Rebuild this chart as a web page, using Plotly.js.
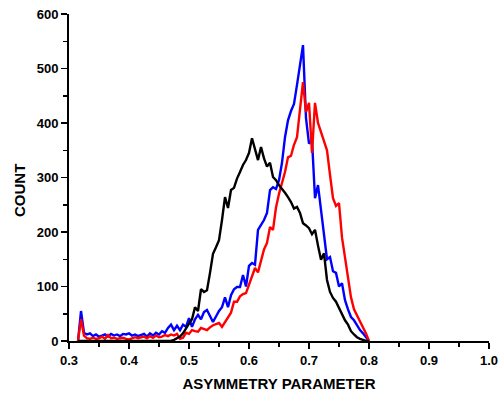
<!DOCTYPE html>
<html>
<head>
<meta charset="utf-8">
<script src="https://cdn.plot.ly/plotly-3.0.1.min.js"></script>
<style>
html,body{margin:0;padding:0;background:#fff;}
#chart{width:501px;height:397px;}
</style>
</head>
<body>
<div id="chart"></div>
<script>
// x grid: starts at 0.315, step 0.005
const xStart = 0.315;
const xStep = 0.005;

const blueCounts = [
  0, 55, 15, 12, 14, 9, 12, 8, 10, 12,
  8, 13, 10, 12, 9, 13, 12, 14, 10, 12,
  9, 11, 13, 8, 14, 10, 15, 12, 18, 15,
  24, 30, 20, 28, 20, 30, 26, 42, 26, 40,
  48, 40, 53, 57, 45, 35, 45, 55, 62, 80,
  62, 84, 95, 99, 99, 121, 100, 138, 143, 140,
  204, 214, 222, 235, 277, 282, 279, 295, 327, 374,
  405, 422, 435, 470, 510, 543, 409, 362, 369, 262,
  286, 240, 190, 150, 154, 128, 125, 100, 106, 75,
  58, 44, 38, 28, 20, 14, 6, 0
];

const redCounts = [
  0, 40, 10, 5, 4, 6, 4, 5, 8, 4,
  11, 5, 6, 4, 5, 6, 4, 3, 5, 7,
  5, 6, 8, 5, 9, 6, 10, 7, 8, 11,
  9, 12, 10, 13, 4, 6, 15, 13, 20, 18,
  17, 24, 22, 20, 25, 29, 31, 33, 26, 35,
  42, 52, 72, 72, 82, 86, 88, 104, 122, 134,
  126, 145, 168, 180, 209, 204, 245, 270, 288, 310,
  337, 340, 360, 374, 425, 475, 420, 437, 345, 437,
  400, 382, 368, 350, 305, 262, 248, 253, 190, 150,
  115, 80, 58, 47, 38, 28, 14, 0
];

const blackCounts = [
  0, 0, 0, 0, 0, 0, 0, 0, 0, 0,
  0, 0, 0, 0, 0, 0, 0, 0, 0, 0,
  0, 0, 0, 0, 0, 0, 0, 0, 0, 0,
  0, 0, 2, 5, 8, 14, 24, 32, 40, 62,
  55, 95, 90, 93, 125, 160, 172, 185, 222, 264,
  244, 277, 281, 298, 310, 323, 332, 345, 372, 350,
  332, 356, 335, 320, 327, 301, 295, 286, 280, 272,
  264, 255, 243, 246, 235, 216, 212, 207, 196, 204,
  175, 149, 161, 112, 90, 79, 72, 60, 50, 38,
  30, 18, 12, 7, 4, 2, 0, 0
];

const xTickVals = [0.3, 0.4, 0.5, 0.6, 0.7, 0.8, 0.9, 1.0];
const xTickText = ["0.3", "0.4", "0.5", "0.6", "0.7", "0.8", "0.9", "1.0"];
const yTickVals = [0, 100, 200, 300, 400, 500, 600];

const fontFam = 'Arial, "Liberation Sans", Helvetica, sans-serif';

function series(vals, color) {
  return {
    type: 'scatter', mode: 'lines',
    x0: xStart, dx: xStep, y: vals,
    line: {color: color, width: 2.4},
    hoverinfo: 'skip', showlegend: false
  };
}

const data = [
  series(blueCounts, '#0000ff'),
  series(redCounts, '#ff0000'),
  series(blackCounts, '#000000')
];

const layout = {
  width: 501, height: 397,
  margin: {l: 69, r: 12, t: 14, b: 56},
  paper_bgcolor: '#fff', plot_bgcolor: '#fff',
  showlegend: false,
  xaxis: {
    range: [0.3, 1.0],
    tickvals: xTickVals, ticktext: xTickText,
    ticks: 'outside', ticklen: 6, tickwidth: 1.5, tickcolor: '#000',
    minor: {dtick: 0.05, tick0: 0.3, ticks: 'outside', ticklen: 4, tickwidth: 1.5, tickcolor: '#000'},
    showline: true, linecolor: '#000', linewidth: 2,
    showgrid: false, zeroline: false,
    tickfont: {family: fontFam, size: 13, color: '#000', weight: 'bold'},
    title: {text: 'ASYMMETRY PARAMETER', font: {family: fontFam, size: 15, color: '#000', weight: 'bold'}, standoff: 12}
  },
  yaxis: {
    range: [0, 600],
    tickvals: yTickVals,
    ticks: 'outside', ticklen: 6, tickwidth: 1.5, tickcolor: '#000',
    minor: {dtick: 50, tick0: 0, ticks: 'outside', ticklen: 4, tickwidth: 1.5, tickcolor: '#000'},
    showline: true, linecolor: '#000', linewidth: 2,
    showgrid: false, zeroline: false,
    tickfont: {family: fontFam, size: 13, color: '#000', weight: 'bold'}
  },
  annotations: [{
    text: 'COUNT', textangle: -90,
    xref: 'paper', yref: 'paper',
    x: (19 - 69) / 420, y: (341 - 191) / 327,
    xanchor: 'center', yanchor: 'middle',
    showarrow: false,
    font: {family: fontFam, size: 15, color: '#000', weight: 'bold'}
  }]
};

Plotly.newPlot('chart', data, layout, {staticPlot: true, displayModeBar: false});
</script>
</body>
</html>
